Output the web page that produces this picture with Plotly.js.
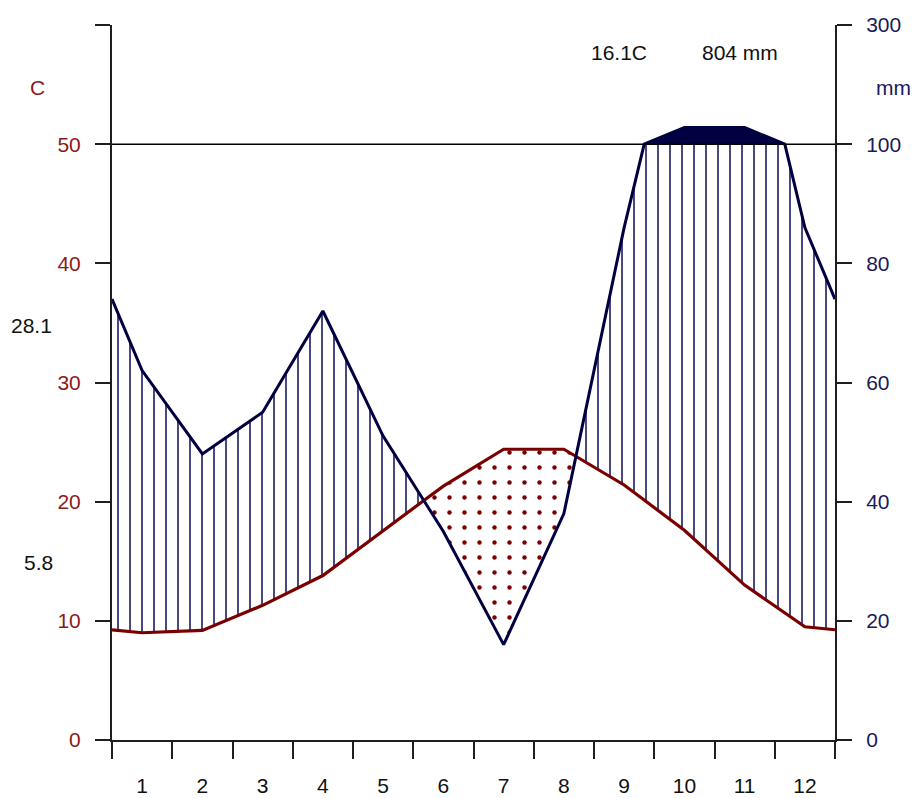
<!DOCTYPE html>
<html>
<head>
<meta charset="utf-8">
<script src="https://cdn.plot.ly/plotly-3.0.1.min.js"></script>
<style>html,body{margin:0;padding:0;background:#fff;}#chart{width:916px;height:798px;}</style>
</head>
<body>
<div id="chart"></div>
<script>
// ---- data ----
const months = ['1','2','3','4','5','6','7','8','9','10','11','12'];
const temperature = [9.0, 9.2, 11.3, 13.8, 17.6, 21.3, 24.4, 24.4, 21.4, 17.6, 13.0, 9.5]; // °C
const precipitation = [62, 48, 55, 72, 51, 35, 16, 38, 86, 128, 128, 86];               // mm
const leftTickVals = [0, 10, 20, 30, 40, 50, 60];
const leftTickText = ['0', '10', '20', '30', '40', '50', ''];
const rightTickText = ['0', '20', '40', '60', '80', '100', '300'];
const annualTemp = '16.1C';
const annualPrec = '804 mm';
const maxWarmest = '28.1';
const minColdest = '5.8';
const humidLimit = 100; // mm, scale changes above this

// ---- derived ----
const compress = mm => mm <= humidLimit ? mm / 2 : humidLimit / 2 + (mm - humidLimit) / 20;
const edgeT = (temperature[0] + temperature[11]) / 2;
const edgeP = (precipitation[0] + precipitation[11]) / 2;
const kx = [0].concat(months.map((m, i) => i + 0.5), [months.length]);
const kt = [edgeT].concat(temperature, [edgeT]);
const kp = [edgeP].concat(precipitation, [edgeP]);

const X = [], T = [], PM = [];
for (let i = 0; i < kx.length - 1; i++) {
  X.push(kx[i]); T.push(kt[i]); PM.push(kp[i]);
  const ts = [];
  const a = kp[i] / 2 - kt[i], b = kp[i + 1] / 2 - kt[i + 1];
  if (a * b < 0) ts.push(a / (a - b));
  const c1 = kp[i] - humidLimit, c2 = kp[i + 1] - humidLimit;
  if (c1 * c2 < 0) ts.push(c1 / (c1 - c2));
  ts.sort((p, q) => p - q).forEach(t => {
    X.push(kx[i] + t * (kx[i + 1] - kx[i]));
    T.push(kt[i] + t * (kt[i + 1] - kt[i]));
    PM.push(kp[i] + t * (kp[i + 1] - kp[i]));
  });
}
X.push(kx[kx.length - 1]); T.push(kt[kt.length - 1]); PM.push(kp[kp.length - 1]);

const PC = PM.map(compress);
const lim = compress(humidLimit);
const humidUpper = PC.map((p, i) => Math.min(Math.max(p, T[i]), lim));
const dryLower = PC.map((p, i) => Math.min(p, T[i]));
const limLine = PC.map(() => lim);
const topUpper = PC.map(p => Math.max(p, lim));
const boundaries = months.map((m, i) => i).concat([months.length]);

const RED = '#7a0000', NAVY = '#000040', AX = '#1e1e1e';
const FONT = 'Liberation Sans, Arial, sans-serif';
const hidden = {width: 0, color: 'rgba(0,0,0,0)'};

const traces = [
  {x: X, y: T, mode: 'lines', line: hidden, hoverinfo: 'skip'},
  {x: X, y: humidUpper, mode: 'lines', line: hidden, fill: 'tonexty', fillcolor: 'rgba(0,0,0,0)',
   fillpattern: {shape: '|', size: 12, solidity: 0.13, fgcolor: '#14145e', bgcolor: 'rgba(0,0,0,0)'}, hoverinfo: 'skip'},
  {x: X, y: dryLower, mode: 'lines', line: hidden, hoverinfo: 'skip'},
  {x: X, y: T, mode: 'lines', line: hidden, fill: 'tonexty', fillcolor: 'rgba(0,0,0,0)',
   fillpattern: {shape: '.', size: 15, solidity: 0.07, fgcolor: RED, bgcolor: 'rgba(0,0,0,0)'}, hoverinfo: 'skip'},
  {x: X, y: limLine, mode: 'lines', line: hidden, hoverinfo: 'skip'},
  {x: X, y: topUpper, mode: 'lines', line: hidden, fill: 'tonexty', fillcolor: NAVY, hoverinfo: 'skip'},
  {x: X, y: PC, mode: 'lines', line: {color: NAVY, width: 3}, yaxis: 'y2', hoverinfo: 'skip'},
  {x: X, y: T, mode: 'lines', line: {color: RED, width: 3.2}, hoverinfo: 'skip'}
];

const tickFont = (c) => ({family: FONT, size: 21, color: c});
const note = (text, x, y, c) => ({text: text, xref: 'paper', yref: 'paper', x: x, y: y,
  xanchor: 'center', yanchor: 'middle', showarrow: false, font: tickFont(c)});

const layout = {
  width: 916, height: 798,
  margin: {l: 112, r: 81, t: 25, b: 58},
  paper_bgcolor: '#fff', plot_bgcolor: '#fff',
  showlegend: false, hovermode: false,
  xaxis: {
    range: [0, 12], tickmode: 'array', tickvals: months.map((m, i) => i + 0.5), ticktext: months,
    ticks: '', showline: true, linecolor: AX, linewidth: 2, showgrid: false, zeroline: false,
    tickfont: tickFont('#111'), ticklabelstandoff: 26,
    minor: {tickmode: 'array', tickvals: boundaries,
            ticks: 'outside', ticklen: 17, tickwidth: 2, tickcolor: AX, showgrid: false}
  },
  yaxis: {
    range: [0, 60], tickmode: 'array', tickvals: leftTickVals, ticktext: leftTickText,
    ticks: 'outside', ticklen: 15, tickwidth: 2, tickcolor: AX, showline: true, linecolor: AX, linewidth: 2,
    showgrid: false, zeroline: false, tickfont: tickFont('#8b1a1a'), ticklabelstandoff: 10
  },
  yaxis2: {
    range: [0, 60], overlaying: 'y', side: 'right', anchor: 'x', tickmode: 'array', tickvals: leftTickVals, ticktext: rightTickText,
    ticks: 'outside', ticklen: 15, tickwidth: 2, tickcolor: AX, showline: true, linecolor: AX, linewidth: 2,
    showgrid: false, zeroline: false, tickfont: tickFont('#1a1a5c'), ticklabelstandoff: 10
  },
  shapes: [
    {type: 'line', xref: 'paper', yref: 'y', x0: 0, x1: 1, y0: lim, y1: lim, line: {color: '#000', width: 1.5}, layer: 'above'}
  ],
  annotations: [
    note('C', -0.103, 0.913, '#8b1a1a'),
    note('mm', 1.0816, 0.912, '#1a1a5c'),
    note(maxWarmest, -0.112, 0.580, '#111'),
    note(minColdest, -0.101, 0.2476, '#111'),
    note(annualTemp, 0.701, 0.9615, '#111'),
    note(annualPrec, 0.869, 0.9615, '#111')
  ]
};

Plotly.newPlot('chart', traces, layout, {staticPlot: true, displayModeBar: false});
</script>
</body>
</html>
